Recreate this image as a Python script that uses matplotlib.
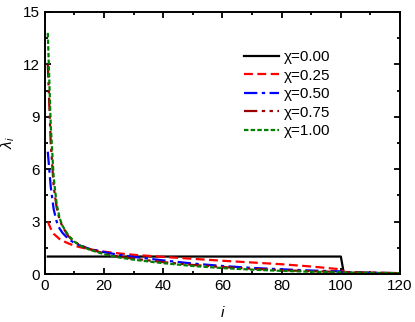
import matplotlib
matplotlib.use("Agg")
import matplotlib.pyplot as plt
from matplotlib.ticker import MultipleLocator

plt.rcParams["font.family"] = ["Liberation Sans", "DejaVu Sans"]
plt.rcParams["mathtext.fontset"] = "custom"
plt.rcParams["mathtext.rm"] = "Liberation Sans"
plt.rcParams["mathtext.it"] = "Liberation Sans:italic"

# eigenvalue index
idx = [1, 2, 3, 4, 5, 6, 8, 10, 12, 15, 20, 25, 30, 40, 50, 60, 70, 80, 90, 100, 101, 110, 120]

# chi = 0.00 : flat 1 up to i=100, then drop
idx_00 = [1, 100, 101, 120]
lam_00 = [1.0, 1.0, 0.05, 0.05]

lam_25 = [3.0, 2.6, 2.3, 2.15, 2.0, 1.9, 1.75, 1.62, 1.53, 1.42, 1.28, 1.18, 1.1,
          0.98, 0.87, 0.76, 0.66, 0.56, 0.43, 0.27, 0.12, 0.08, 0.05]
lam_50 = [7.0, 5.0, 3.7, 3.0, 2.6, 2.35, 2.0, 1.78, 1.62, 1.45, 1.25, 1.1, 0.98,
          0.78, 0.6, 0.46, 0.35, 0.27, 0.2, 0.15, 0.1, 0.07, 0.05]
lam_75 = [12.0, 7.5, 5.0, 3.8, 3.1, 2.7, 2.15, 1.85, 1.65, 1.43, 1.18, 1.0, 0.88,
          0.68, 0.52, 0.4, 0.3, 0.22, 0.16, 0.12, 0.1, 0.07, 0.05]
lam_100 = [13.8, 8.5, 5.5, 4.0, 3.2, 2.75, 2.2, 1.85, 1.62, 1.4, 1.13, 0.95, 0.82,
           0.62, 0.46, 0.34, 0.25, 0.18, 0.13, 0.1, 0.09, 0.07, 0.05]

fig = plt.figure(figsize=(4.15, 3.22), dpi=100)
ax = fig.add_axes([0.108, 0.149, 0.856, 0.814])

ax.plot(idx_00, lam_00, color="black", lw=1.6, label="χ=0.00")
ax.plot(idx, lam_25, color="red", lw=1.6, ls=(0, (4, 2)), label="χ=0.25")
ax.plot(idx, lam_50, color="blue", lw=1.6, ls=(0, (6, 2, 1.5, 2)), label="χ=0.50")
ax.plot(idx, lam_75, color="#990000", lw=1.6, ls=(0, (6, 2, 1.5, 2, 1.5, 2)), label="χ=0.75")
ax.plot(idx, lam_100, color="green", lw=1.6, ls=(0, (2, 1)), label="χ=1.00")

ax.set_xlim(0, 120)
ax.set_ylim(0, 15)
ax.xaxis.set_major_locator(MultipleLocator(20))
ax.xaxis.set_minor_locator(MultipleLocator(10))
ax.yaxis.set_major_locator(MultipleLocator(3))
ax.yaxis.set_minor_locator(MultipleLocator(1.5))
ax.tick_params(which="both", direction="in", top=True, right=True, labelsize=11, width=1.3)
ax.tick_params(which="major", length=4)
ax.tick_params(which="minor", length=2)
for s in ax.spines.values():
    s.set_linewidth(1.4)

ax.set_xlabel("$i$", fontsize=11, labelpad=9)
ax.set_ylabel(r"$\lambda_i$", fontsize=11, labelpad=4)

ax.legend(loc="upper left", bbox_to_anchor=(0.56, 0.855), frameon=False, fontsize=11,
          borderpad=0, borderaxespad=0,
          handlelength=2.3, handletextpad=0.3, labelspacing=0.3)

fig.savefig("out.png", dpi=100)
